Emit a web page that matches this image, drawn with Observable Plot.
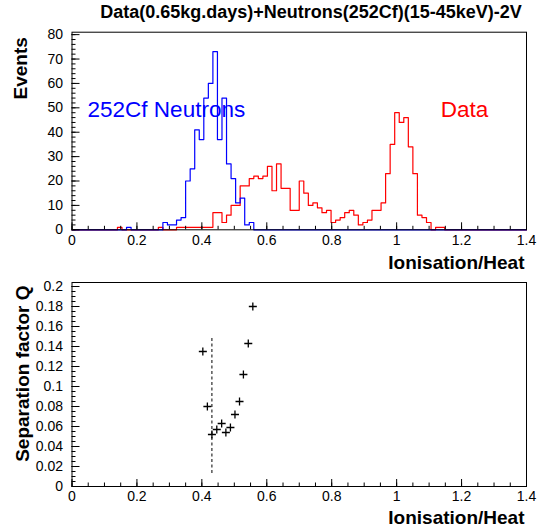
<!DOCTYPE html>
<html><head><meta charset="utf-8">
<script src="https://cdn.jsdelivr.net/npm/d3@7"></script>
<script src="https://cdn.jsdelivr.net/npm/@observablehq/plot@0.6"></script>
<style>
body{margin:0;background:#fff;}
#wrap{position:relative;width:540px;height:531px;overflow:hidden;}
#top,#bot{position:absolute;left:0;}
#top{top:0;} #bot{top:270px;}
</style></head>
<body><div id="wrap"><div id="top"></div><div id="bot"></div></div>
<script>
// ---- data ----
const titleText = "Data(0.65kg.days)+Neutrons(252Cf)(15-45keV)-2V";
const binWidth = 0.014; // 100 bins over [0, 1.4]
const dataCounts = [
  0,0,0,0,0,0,0,0,0,0,
  1,0,0,0,0,0,0,0,0,1,
  0,0,0,1,1,1,1,1,1,1,
  1,7,7,3,6,10,10,18,18,21,
  22,21,22,26,16,27,17,17,8,8,
  20,15,10,11,9,7,8,3,4,5,
  7,8,6,2,3,4,8,8,11,23,
  35,48,44,46,34,23,6,5,3,0,
  1,1,0,0,0,0,0,0,0,0,
  0,0,0,0,0,0,0,0,0,0
];
const neutronCounts = [
  0,0,0,0,0,0,0,0,0,0,
  0,0,1,0,0,0,0,0,0,0,
  3,2,2,4,5,20,25,41,37,54,
  60,73,37,54,27,21,11,13,2,3,
  0,0,0,0,0,0,0,0,0,0,
  0,0,0,0,0,0,0,0,0,0,
  0,0,0,0,0,0,0,0,0,0,
  0,0,0,0,0,0,0,0,0,0,
  0,0,0,0,0,0,0,0,0,0,
  0,0,0,0,0,0,0,0,0,0
];
const sepIonHeat = [0.403, 0.417, 0.431, 0.446, 0.461, 0.474, 0.488, 0.502, 0.516, 0.528, 0.543, 0.557];
const sepQ       = [0.135, 0.080, 0.052, 0.057, 0.063, 0.054, 0.059, 0.072, 0.085, 0.112, 0.143, 0.180];
const cutIonHeat = 0.431;
const cutQRange = [0.013, 0.149];
const xTicks = [0, 0.2, 0.4, 0.6, 0.8, 1, 1.2, 1.4];
const eventTicks = [0, 10, 20, 30, 40, 50, 60, 70, 80];
const qTicks = [0, 0.02, 0.04, 0.06, 0.08, 0.1, 0.12, 0.14, 0.16, 0.18, 0.2];

// ---- helpers ----
const font = "'Liberation Sans', Arial, Helvetica, sans-serif";
const fmt = d => String(+(+d).toFixed(3));
const steps = counts => d3.range(counts.length + 1).map(k => ({edge: k * binWidth, count: counts[Math.min(k, counts.length - 1)]}));
const xMinor = d3.range(0, 28.5).map(i => +(i * 0.05).toFixed(3));
const evMinor = d3.range(0, 41).map(i => i * 2);
const qMinor = d3.range(0, 41).map(i => +(i * 0.005).toFixed(4));
const style = {fontFamily: font, fontSize: "14px", background: "white", color: "black", overflow: "visible"};

function xAxes() {
  return [
    Plot.axisX(xMinor, {tickSize: 3.5, dy: -3.5, text: null, label: null}),
    Plot.axisX(xTicks, {tickSize: 7, dy: -7, text: null, label: null}),
    Plot.axisX(xTicks, {tickSize: 0, tickPadding: 5, tickFormat: fmt, label: null, fontSize: 14})
  ];
}

const topPlot = Plot.plot({
  width: 540, height: 270,
  marginLeft: 71.5, marginRight: 14, marginTop: 31.7, marginBottom: 40.7,
  style,
  x: {domain: [0, 1.4], label: null},
  y: {domain: [0, 81], label: null},
  marks: [
    Plot.line(steps(dataCounts), {x: "edge", y: "count", curve: "step-after", stroke: "#ff0000", strokeWidth: 1.2}),
    Plot.line(steps(neutronCounts), {x: "edge", y: "count", curve: "step-after", stroke: "#0000ff", strokeWidth: 1.2}),
    Plot.frame({stroke: "black", strokeWidth: 1}),
    ...xAxes(),
    Plot.axisY(evMinor, {tickSize: 4, dx: 4, text: null, label: null}),
    Plot.axisY(eventTicks, {tickSize: 8, dx: 8, text: null, label: null}),
    Plot.axisY(eventTicks, {tickSize: 0, tickPadding: 9, label: null, fontSize: 14}),
    Plot.text(["252Cf Neutrons"], {x: 0.048, y: 49.2, textAnchor: "start", lineAnchor: "middle", fill: "#0000ff", fontSize: 22.5}),
    Plot.text(["Data"], {x: 1.136, y: 49.2, textAnchor: "start", lineAnchor: "middle", fill: "#ff0000", fontSize: 22.5}),
    Plot.text([titleText], {frameAnchor: "top", dx: 11.75, dy: -19.7, lineAnchor: "middle", fontWeight: "bold", fontSize: 18}),
    Plot.text(["Events"], {frameAnchor: "top-left", dx: -51, dy: 5, rotate: -90, textAnchor: "end", lineAnchor: "middle", fontWeight: "bold", fontSize: 19}),
    Plot.text(["Ionisation/Heat"], {frameAnchor: "bottom-right", dx: -2, dy: 33, textAnchor: "end", lineAnchor: "middle", fontWeight: "bold", fontSize: 19})
  ]
});
document.getElementById("top").appendChild(topPlot);

const pts = sepIonHeat.map((x, i) => ({x, q: sepQ[i]}));
const botPlot = Plot.plot({
  width: 540, height: 261,
  marginLeft: 71.5, marginRight: 14, marginTop: 12, marginBottom: 45,
  style,
  x: {domain: [0, 1.4], label: null},
  y: {domain: [0, 0.204], label: null},
  marks: [
    Plot.frame({stroke: "black", strokeWidth: 1}),
    ...xAxes(),
    Plot.axisY(qMinor, {tickSize: 4, dx: 4, text: null, label: null}),
    Plot.axisY(qTicks, {tickSize: 8, dx: 8, text: null, label: null}),
    Plot.axisY(qTicks, {tickSize: 0, tickPadding: 9, tickFormat: fmt, label: null, fontSize: 14}),
    Plot.ruleX([cutIonHeat], {y1: cutQRange[0], y2: cutQRange[1], stroke: "black", strokeDasharray: "3,2.5", strokeWidth: 1}),
    Plot.dot(pts, {x: "x", y: "q", symbol: "plus", r: 2.7, stroke: "black", strokeWidth: 1.3}),
    Plot.text(["Separation factor Q"], {frameAnchor: "top-left", dx: -49.5, dy: 3, rotate: -90, textAnchor: "end", lineAnchor: "middle", fontWeight: "bold", fontSize: 19}),
    Plot.text(["Ionisation/Heat"], {frameAnchor: "bottom-right", dx: -2, dy: 31, textAnchor: "end", lineAnchor: "middle", fontWeight: "bold", fontSize: 19})
  ]
});
document.getElementById("bot").appendChild(botPlot);
</script>
</body></html>
